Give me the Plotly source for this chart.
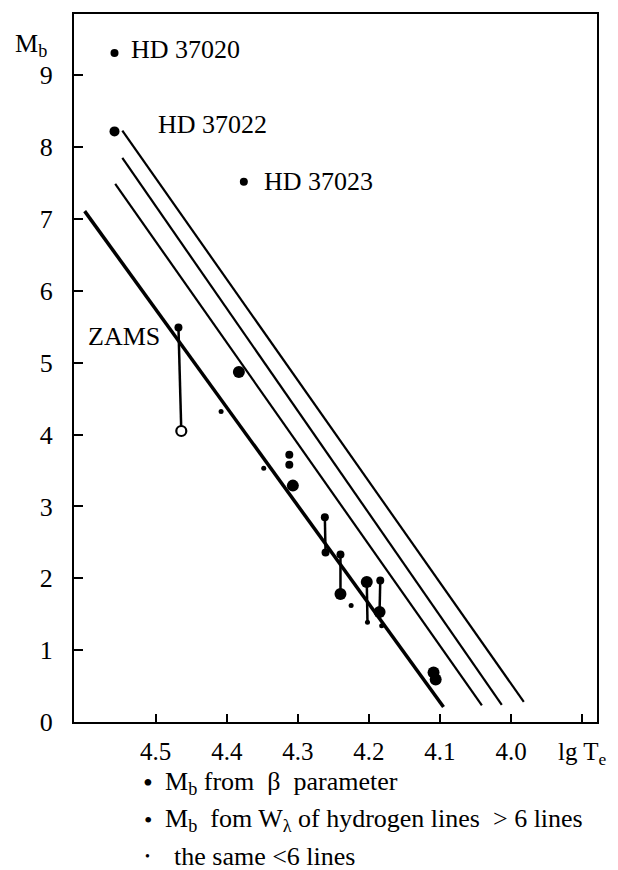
import plotly.graph_objects as go

FONT = "Times New Roman"

# ---- sequence lines (lgTe, Mb) start/end ----
line_names = ["ZAMS", "iso3", "iso2", "iso1"]
line_T0 = [4.600, 4.557, 4.547, 4.547]
line_M0 = [7.11, 7.49, 7.85, 8.23]
line_T1 = [4.095, 4.041, 4.013, 3.982]
line_M1 = [0.21, 0.23, 0.24, 0.28]
line_widths = [3.5, 2.2, 2.2, 2.2]

# ---- named stars ----
hd_names = ["HD 37020", "HD 37022", "HD 37023"]
hd_T = [4.558, 4.558, 4.376]
hd_M = [9.31, 8.22, 7.52]
hd_label_T = [4.538, 4.500, 4.351]
hd_label_M = [9.36, 8.31, 7.52]

# ---- Mb from beta parameter (large dots) ----
beta_T = [4.383, 4.307, 4.240, 4.203, 4.185, 4.109, 4.106]
beta_M = [4.87, 3.29, 1.78, 1.95, 1.53, 0.69, 0.59]

# ---- Mb from W_lambda, > 6 lines (medium dots) ----
w6_T = [4.468, 4.312, 4.312, 4.262, 4.261, 4.240, 4.184]
w6_M = [5.49, 3.72, 3.58, 2.85, 2.36, 2.33, 1.97]

# ---- the same, < 6 lines (small dots) ----
ws_T = [4.408, 4.348, 4.225, 4.202, 4.182]
ws_M = [4.32, 3.53, 1.62, 1.39, 1.34]

# ---- open circle ----
open_T = [4.464]
open_M = [4.05]

# ---- vertical connectors (top -> bottom) ----
seg_T_top = [4.468, 4.262, 4.240, 4.203, 4.184]
seg_M_top = [5.49, 2.85, 2.33, 1.95, 1.97]
seg_T_bot = [4.464, 4.261, 4.240, 4.202, 4.185]
seg_M_bot = [4.05, 2.36, 1.78, 1.39, 1.53]

# ---- axis ticks ----
x_tickvals = [4.5, 4.4, 4.3, 4.2, 4.1, 4.0, 3.9]
x_ticktext = ["4.5", "4.4", "4.3", "4.2", "4.1", "4.0", "lg T<sub>e</sub>"]
y_tickvals = [0, 1, 2, 3, 4, 5, 6, 7, 8, 9]

fig = go.Figure()

for i in range(len(line_names)):
    fig.add_trace(go.Scatter(
        x=[line_T0[i], line_T1[i]], y=[line_M0[i], line_M1[i]],
        mode="lines", line=dict(color="black", width=line_widths[i]),
        hoverinfo="skip"))

sx, sy = [], []
for i in range(len(seg_T_top)):
    sx += [seg_T_top[i], seg_T_bot[i], None]
    sy += [seg_M_top[i], seg_M_bot[i], None]
fig.add_trace(go.Scatter(x=sx, y=sy, mode="lines",
                         line=dict(color="black", width=2.5)))

fig.add_trace(go.Scatter(x=hd_T, y=hd_M, mode="markers",
                         marker=dict(color="black", size=[8, 10, 8], opacity=1,
                                     line=dict(width=0))))
fig.add_trace(go.Scatter(x=beta_T, y=beta_M, mode="markers",
                         marker=dict(color="black", size=12, opacity=1)))
fig.add_trace(go.Scatter(x=w6_T, y=w6_M, mode="markers",
                         marker=dict(color="black", size=8, opacity=1)))
fig.add_trace(go.Scatter(x=ws_T, y=ws_M, mode="markers",
                         marker=dict(color="black", size=5, opacity=1)))
fig.add_trace(go.Scatter(x=open_T, y=open_M, mode="markers",
                         marker=dict(color="white", size=10,
                                     line=dict(color="black", width=2.2))))


def py(p):
    return (722 - p) / 710.0


def px(p):
    return (p - 74) / 532.0


annotations = []
for i, name in enumerate(hd_names):
    annotations.append(dict(x=hd_label_T[i], y=hd_label_M[i], text=name,
                            xref="x", yref="y", showarrow=False,
                            xanchor="left", yanchor="middle",
                            font=dict(family=FONT, size=26, color="black")))
annotations.append(dict(x=4.545, y=5.36, text="ZAMS", xref="x", yref="y",
                        showarrow=False, xanchor="center", yanchor="middle",
                        font=dict(family=FONT, size=26, color="black")))
annotations.append(dict(x=px(30), y=py(43), text="M<sub>b</sub>", xref="paper", yref="paper",
                        showarrow=False, xanchor="center", yanchor="middle",
                        font=dict(family=FONT, size=26, color="black")))

leg_rows = [
    ("•", 28, "M<sub>b</sub> from  β  parameter", 783, 165),
    ("•", 24, "M<sub>b</sub>  fom W<sub>λ</sub> of hydrogen lines  &gt; 6 lines", 820, 165),
    ("•", 14, "the same &lt;6 lines", 857, 174),
]
for bullet, bsize, text, ypix, xt in leg_rows:
    annotations.append(dict(x=px(149), y=py(ypix), text=bullet, xref="paper", yref="paper",
                            showarrow=False, xanchor="center", yanchor="middle",
                            font=dict(family=FONT, size=bsize, color="black")))
    annotations.append(dict(x=px(xt), y=py(ypix), text=text,
                            xref="paper", yref="paper", showarrow=False,
                            xanchor="left", yanchor="middle",
                            font=dict(family=FONT, size=26, color="black")))

fig.update_layout(
    width=618, height=870,
    margin=dict(l=74, r=12, t=12, b=148),
    paper_bgcolor="white", plot_bgcolor="white",
    showlegend=False,
    annotations=annotations,
    font=dict(family=FONT, color="black"),
    xaxis=dict(range=[4.615, 3.879], tickvals=x_tickvals, ticktext=x_ticktext,
               ticks="inside", ticklen=8, tickwidth=2, tickcolor="black",
               showline=True, linewidth=2, linecolor="black", mirror=True,
               showgrid=False, zeroline=False, ticklabelstandoff=6,
               tickfont=dict(family=FONT, size=25, color="black")),
    yaxis=dict(range=[0, 9.854], tickvals=y_tickvals,
               ticks="inside", ticklen=9, tickwidth=2, tickcolor="black",
               showline=True, linewidth=2, linecolor="black", mirror=True,
               showgrid=False, zeroline=False, ticklabelstandoff=14,
               tickfont=dict(family=FONT, size=26, color="black")),
)

fig.write_html("out.html")
